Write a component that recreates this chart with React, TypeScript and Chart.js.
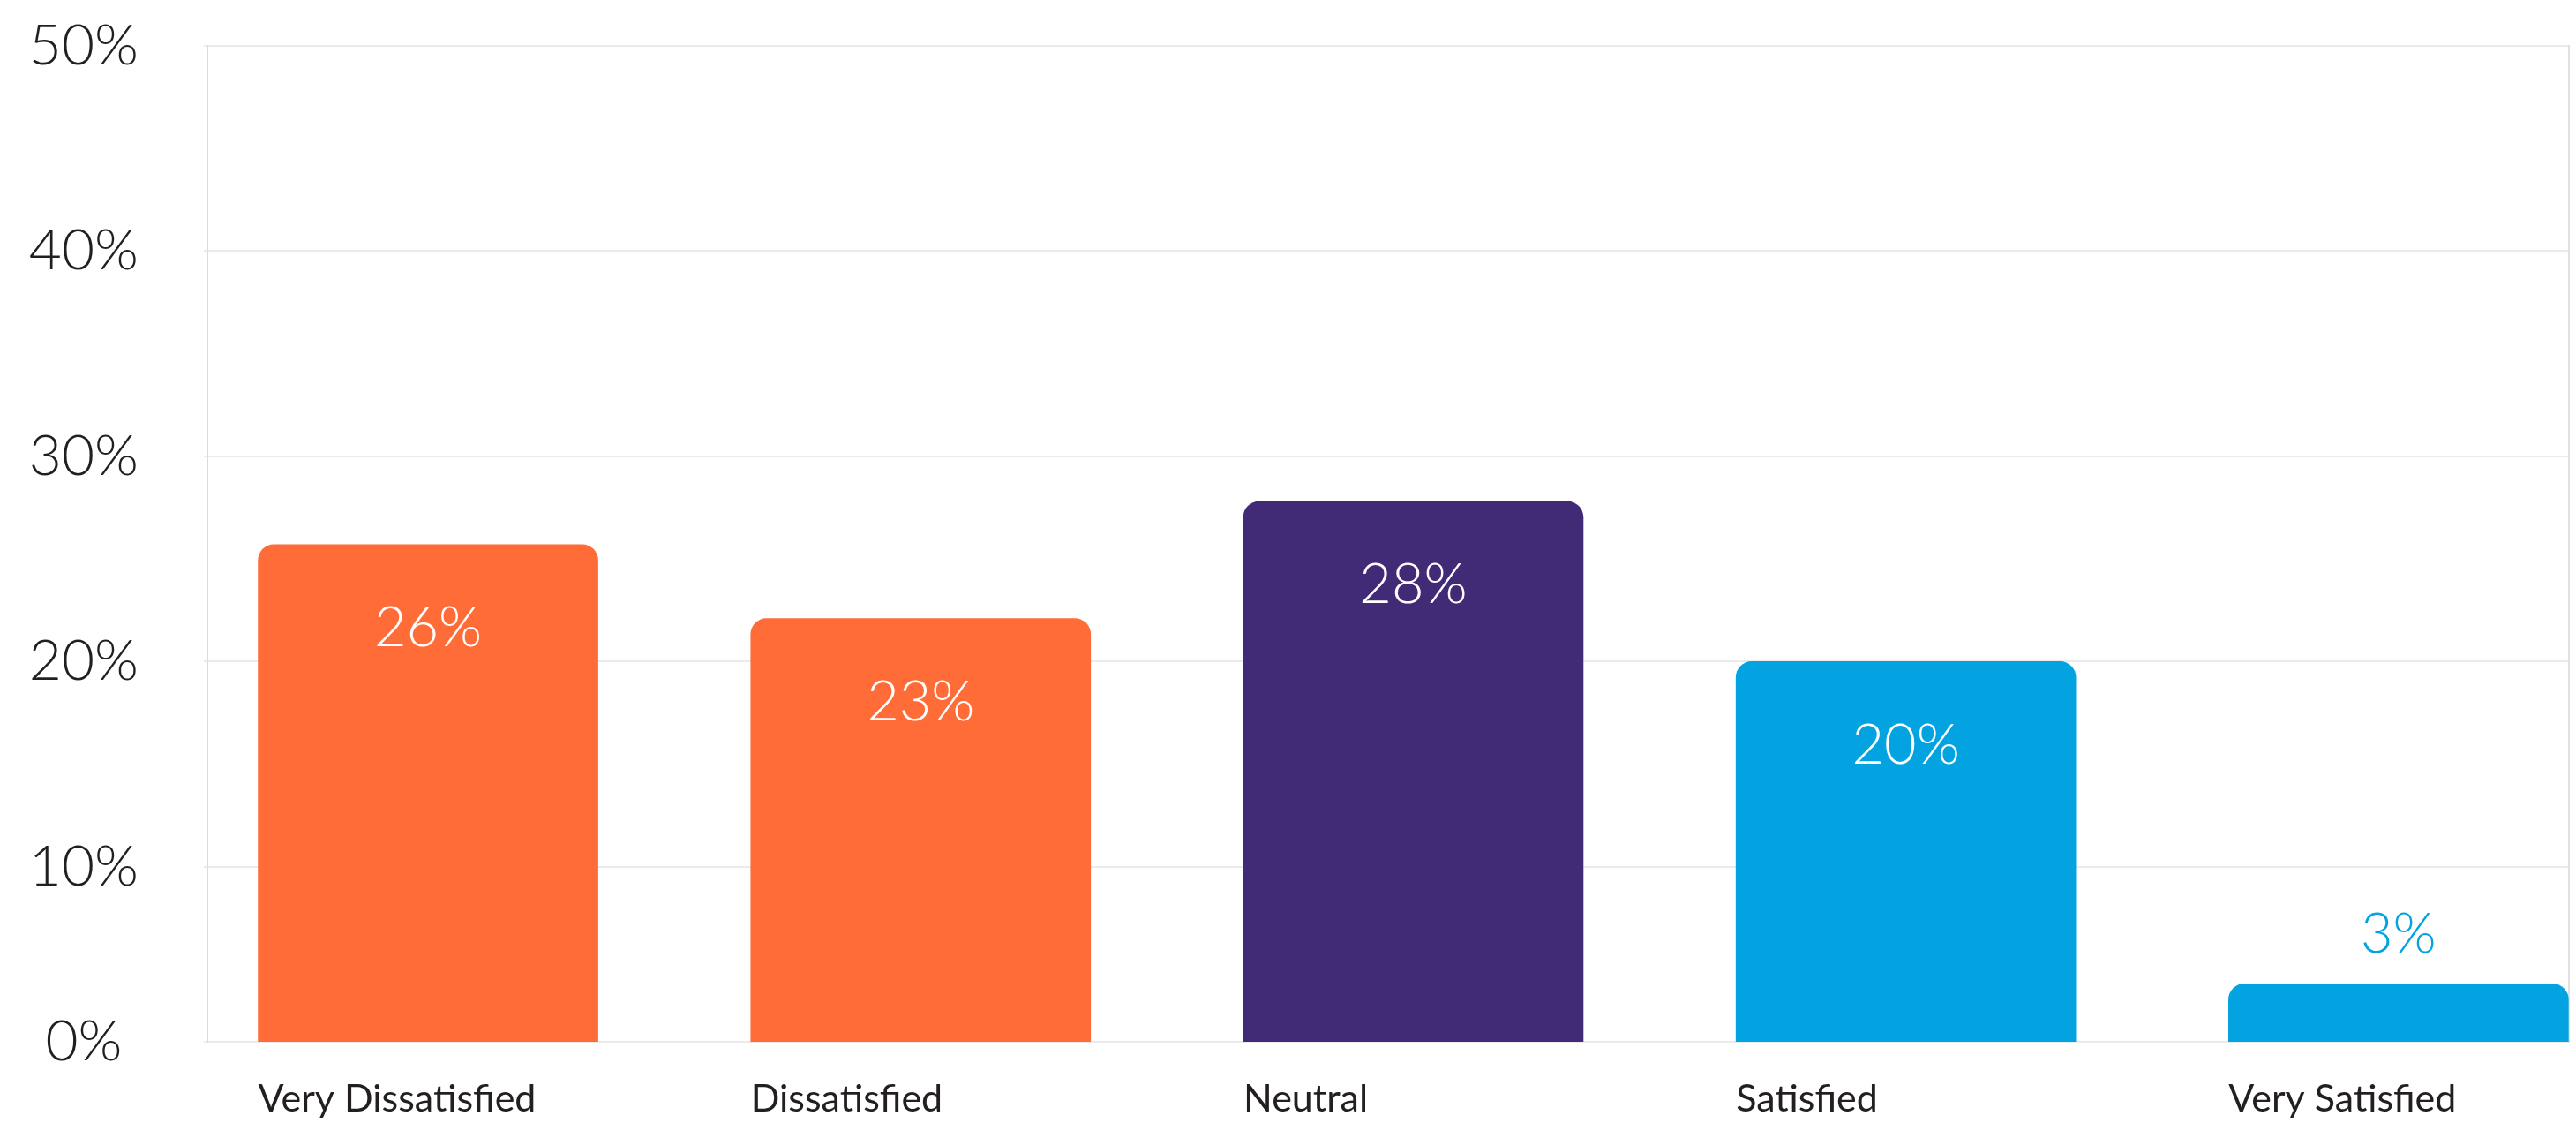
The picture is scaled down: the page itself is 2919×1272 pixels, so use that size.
import React, { useEffect, useRef } from 'react';
import { Chart, registerables } from 'chart.js';

Chart.register(...registerables);

const categories = ['Very Dissatisfied', 'Dissatisfied', 'Neutral', 'Satisfied', 'Very Satisfied'];
const barValues = [25.7, 22.1, 27.8, 20.0, 4.3];
const valueLabels = ['26%', '23%', '28%', '20%', '3%'];
const barColors = ['#FF6C37', '#FF6C37', '#412A76', '#02A3E0', '#02A3E0'];
const yTickValues = [0, 10, 20, 30, 40, 50];
const yTickLabels = ['0%', '10%', '20%', '30%', '40%', '50%'];

const Y_FLOOR = 1.48;
const Y_MAX = 50;
const X_MIN = -0.448;
const X_MAX = 4.346;

const TEXT = '#231F20';

const noPad = (s: any) => {
  s.paddingTop = 0;
  s.paddingBottom = 0;
  s.paddingLeft = 0;
  s.paddingRight = 0;
};

const valueLabelPlugin = {
  id: 'valueLabels',
  afterDatasetsDraw(chart: any) {
    const ctx = chart.ctx;
    const meta = chart.getDatasetMeta(0);
    ctx.save();
    ctx.font = '300 63px Lato';
    ctx.textAlign = 'center';
    ctx.textBaseline = 'middle';
    meta.data.forEach((bar: any, i: number) => {
      const { x, y, base } = bar.getProps(['x', 'y', 'base'], true);
      const h = base - y;
      if (h > 150) {
        ctx.fillStyle = '#FFFFFF';
        ctx.fillText(valueLabels[i], x, y + 95);
      } else {
        ctx.fillStyle = barColors[i];
        ctx.fillText(valueLabels[i], x, y - 56);
      }
    });
    ctx.restore();
  },
};

export default function App() {
  const ref = useRef<HTMLCanvasElement | null>(null);

  useEffect(() => {
    if (!ref.current) return;
    const chart = new Chart(ref.current, {
      type: 'bar',
      data: {
        datasets: [
          {
            data: categories.map((_, i) => ({ x: i, y: barValues[i] })),
            backgroundColor: barColors,
            borderRadius: 18,
            borderSkipped: 'start',
            barThickness: 385,
          } as any,
        ],
      },
      options: {
        animation: false,
        responsive: true,
        maintainAspectRatio: false,
        layout: { padding: { top: 52, right: 8, bottom: 0, left: 0 }, autoPadding: false },
        plugins: {
          legend: { display: false },
          tooltip: { enabled: false },
        },
        scales: {
          x: {
            type: 'linear',
            offset: false,
            min: X_MIN,
            max: X_MAX,
            afterBuildTicks: (s: any) => {
              s.ticks = categories.map((_, i) => ({ value: i }));
            },
            afterFit: (s: any) => {
              s.height = 92;
              noPad(s);
            },
            ticks: {
              callback: (_v: any, i: number) => categories[i],
              autoSkip: false,
              maxRotation: 0,
              minRotation: 0,
              align: 'start',
              labelOffset: -192.5,
              font: { family: 'Lato', size: 43, weight: '400' },
              color: TEXT,
              padding: 31,
            },
            grid: { display: false, offset: false },
            border: { display: false },
          },
          y: {
            type: 'linear',
            position: 'left',
            min: Y_FLOOR,
            max: Y_MAX,
            afterBuildTicks: (s: any) => {
              s.ticks = yTickValues.map((v) => ({ value: Math.max(v, Y_FLOOR) }));
            },
            afterFit: (s: any) => {
              s.width = 235;
              noPad(s);
            },
            ticks: {
              callback: (_v: any, i: number) => yTickLabels[i],
              font: { family: 'Lato', size: 64, weight: '300' },
              color: TEXT,
              crossAlign: 'center',
              padding: 74,
            },
            grid: { color: '#EBEBEB', lineWidth: 2, tickLength: 4, drawTicks: true },
            border: { display: true, color: '#DCDCDC', width: 2 },
          },
          yRight: {
            type: 'linear',
            position: 'right',
            min: Y_FLOOR,
            max: Y_MAX,
            afterFit: (s: any) => {
              s.width = 0;
              noPad(s);
            },
            ticks: { display: false },
            grid: { display: false, drawTicks: false },
            border: { display: true, color: '#E0E0E0', width: 2 },
          },
        },
      } as any,
      plugins: [valueLabelPlugin],
    });
    return () => chart.destroy();
  }, []);

  return (
    <div style={{ position: 'absolute', left: 0, top: 0, width: 2919, height: 1272 }}>
      <canvas ref={ref} />
    </div>
  );
}
